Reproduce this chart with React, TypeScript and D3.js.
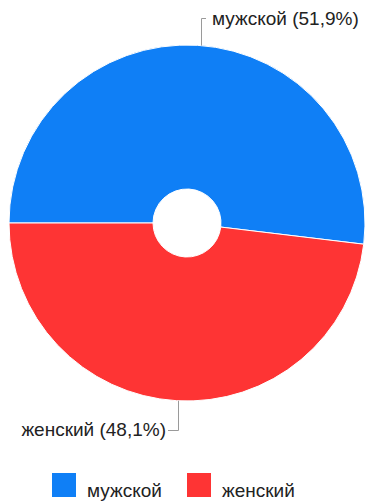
import React from "react";
import * as d3 from "d3";

const categories = ["мужской", "женский"];
const values = [51.9, 48.1];
const labels = ["мужской (51,9%)", "женский (48,1%)"];
const colors = ["#0f7ff6", "#fe3434"];

const W = 365;
const H = 502;
const cx = 187;
const cy = 223;
const R = 178;
const r0 = 34;

export default function App() {
  const pie = d3
    .pie<number>()
    .sort(null)
    .startAngle(-Math.PI / 2)
    .endAngle((3 * Math.PI) / 2)
    .value((d) => d);
  const arcs = pie(values);
  const arc = d3.arc<d3.PieArcDatum<number>>().innerRadius(r0).outerRadius(R);
  const font = "'Liberation Sans', Arial, sans-serif";
  const fs = 19;

  const rim = (angle: number) => [cx + R * Math.sin(angle), cy - R * Math.cos(angle)];
  const a0 = rim(0.08);
  const a1 = rim(Math.PI + 0.05);

  return (
    <svg
      width={W}
      height={H}
      style={{ position: "absolute", left: 0, top: 0, background: "#fff" }}
    >
      <g transform={`translate(${cx},${cy})`}>
        {arcs.map((a, i) => (
          <path key={categories[i]} d={arc(a) || ""} fill={colors[i]} stroke="#fff" strokeWidth={1} />
        ))}
      </g>
      <path
        d={`M${Math.round(a0[0]) + 0.5},${a0[1]}V18.5H206`}
        fill="none"
        stroke="#9a9a9a"
        strokeWidth={1}
      />
      <text x={212} y={25} fontFamily={font} fontSize={fs} fill="#222">
        {labels[0]}
      </text>
      <path
        d={`M${Math.round(a1[0]) + 0.5},${a1[1]}V430.5H168`}
        fill="none"
        stroke="#9a9a9a"
        strokeWidth={1}
      />
      <text x={166} y={436} textAnchor="end" fontFamily={font} fontSize={fs} fill="#222">
        {labels[1]}
      </text>
      {categories.map((c, i) => {
        const x = i === 0 ? 52 : 187;
        return (
          <g key={c}>
            <rect x={x} y={473} width={24} height={24} fill={colors[i]} />
            <text x={x + 35} y={497} fontFamily={font} fontSize={fs} fill="#222">
              {c}
            </text>
          </g>
        );
      })}
    </svg>
  );
}
